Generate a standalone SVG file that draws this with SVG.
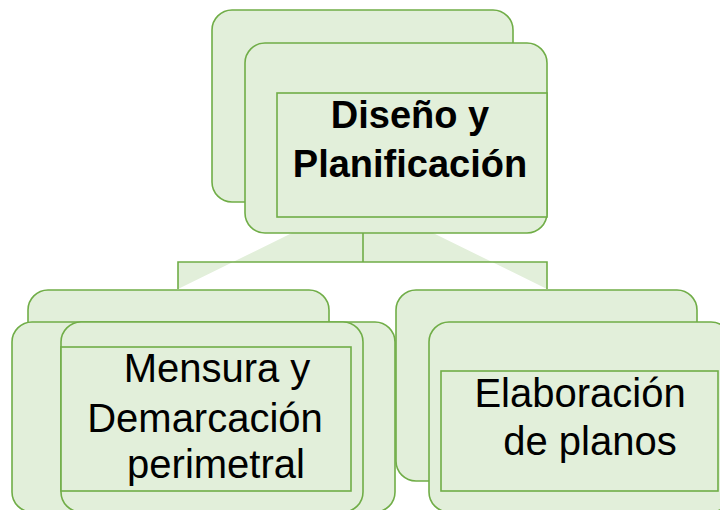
<svg xmlns="http://www.w3.org/2000/svg" width="720" height="510" viewBox="0 0 720 510">
<style>
.box{fill:#e2efda;stroke:#70ad47;stroke-width:1.6}
.wedge{fill:#e2efda;stroke:none}
.conn{fill:none;stroke:#70ad47;stroke-width:1.6}
.tb{font-family:"Liberation Sans",Arial,sans-serif;font-weight:bold;font-size:38px;fill:#000;text-anchor:middle}
.tn{font-family:"Liberation Sans",Arial,sans-serif;font-size:40px;fill:#000;text-anchor:middle}
</style>
<rect width="720" height="510" fill="#fff"/>
<g id="connectors">
<polygon class="wedge" points="292,233 363,233 363,262 178,262 178,289"/>
<polygon class="wedge" points="433,233 363,233 363,262 547,262 547,289"/>
<polyline class="conn" points="363,233 363,262"/>
<polyline class="conn" points="178,289 178,262 547,262 547,289"/>
</g>
<g id="node-top">
<rect class="box" x="212" y="10" width="301" height="192" rx="20"/>
<rect class="box" x="245" y="43" width="302" height="190" rx="20"/>
<rect class="box" x="277" y="93" width="270" height="124"/>
<text class="tb" x="410" y="128">Diseño y</text>
<text class="tb" x="410" y="177">Planificación</text>
</g>
<g id="node-left">
<rect class="box" x="28" y="290" width="301" height="200" rx="20"/>
<rect class="box" x="12" y="322" width="383" height="190" rx="20"/>
<rect class="box" x="61" y="322" width="302" height="190" rx="20"/>
<rect class="box" x="61" y="347" width="290" height="144"/>
<text class="tn" x="217" y="382">Mensura y</text>
<text class="tn" x="205" y="432">Demarcación</text>
<text class="tn" x="216" y="478">perimetral</text>
</g>
<g id="node-right">
<rect class="box" x="396" y="290" width="301" height="191" rx="20"/>
<rect class="box" x="429" y="322" width="302" height="190" rx="20"/>
<rect class="box" x="441" y="371" width="277" height="120"/>
<text class="tn" x="580" y="407">Elaboración</text>
<text class="tn" x="590" y="455">de planos</text>
</g>
</svg>
